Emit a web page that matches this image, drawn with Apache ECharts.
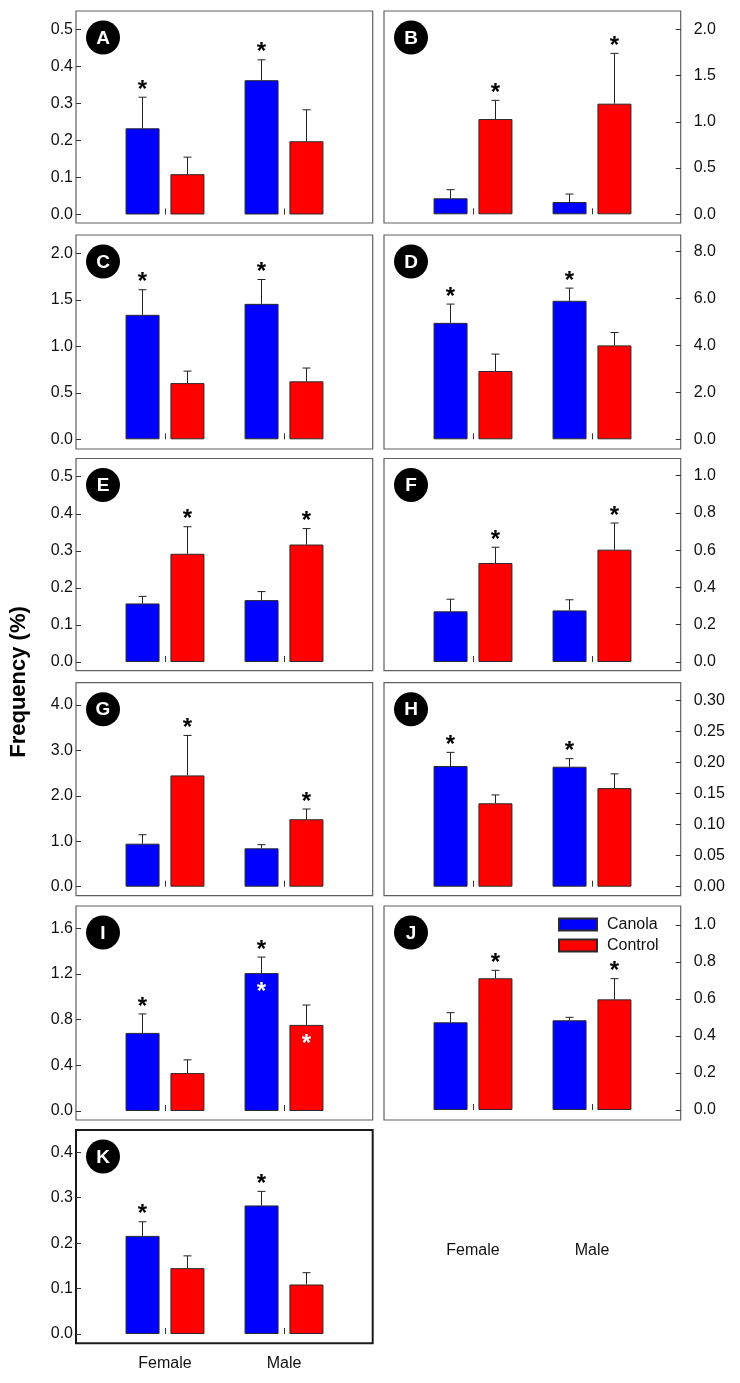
<!DOCTYPE html>
<html><head><meta charset="utf-8">
<script src="https://cdn.jsdelivr.net/npm/echarts@6/dist/echarts.min.js"></script>
<style>html,body{margin:0;padding:0;background:#fff}#c{width:740px;height:1383px}</style>
</head><body><div id="c"></div>
<script>
// ---------------- DATA ----------------
const categories = ['Female', 'Male'];
const seriesNames = ['Canola', 'Control'];
const panelLetters = ['A','B','C','D','E','F','G','H','I','J','K'];

// means and standard errors (Female, Male)
const canolaA = [0.233, 0.363],  canolaSEA = [0.084, 0.055];
const controlA = [0.109, 0.198], controlSEA = [0.046, 0.085];
const canolaB = [0.173, 0.133],  canolaSEB = [0.093, 0.086];
const controlB = [1.03, 1.196],  controlSEB = [0.202, 0.544];
const canolaC = [1.34, 1.458],   canolaSEC = [0.27, 0.262];
const controlC = [0.605, 0.624], controlSEC = [0.129, 0.143];
const canolaD = [4.96, 5.9],     canolaSED = [0.80, 0.54];
const controlD = [2.91, 4.0],    controlSED = [0.72, 0.55];
const canolaE = [0.158, 0.167],  canolaSEE = [0.019, 0.023];
const controlE = [0.292, 0.317], controlSEE = [0.073, 0.043];
const canolaF = [0.272, 0.277],  canolaSEF = [0.065, 0.057];
const controlF = [0.531, 0.603], controlSEF = [0.085, 0.143];
const canolaG = [0.947, 0.845],  canolaSEG = [0.198, 0.08];
const controlG = [2.45, 1.485],  controlSEG = [0.88, 0.225];
const canolaH = [0.1947, 0.1935], canolaSEH = [0.022, 0.013];
const controlH = [0.1345, 0.159], controlSEH = [0.0135, 0.023];
const canolaI = [0.684, 1.208],  canolaSEI = [0.166, 0.14];
const controlI = [0.332, 0.754], controlSEI = [0.116, 0.174];
const canolaJ = [0.474, 0.485],  canolaSEJ = [0.052, 0.016];
const controlJ = [0.712, 0.598], controlSEJ = [0.043, 0.112];
const canolaK = [0.216, 0.283],  canolaSEK = [0.031, 0.031];
const controlK = [0.145, 0.109], controlSEK = [0.027, 0.026];

// significance asterisks above bars [Female, Male]; 1 = shown
const starCanolaA = [1,1], starControlA = [0,0];
const starCanolaB = [0,0], starControlB = [1,1];
const starCanolaC = [1,1], starControlC = [0,0];
const starCanolaD = [1,1], starControlD = [0,0];
const starCanolaE = [0,0], starControlE = [1,1];
const starCanolaF = [0,0], starControlF = [1,1];
const starCanolaG = [0,0], starControlG = [1,1];
const starCanolaH = [1,1], starControlH = [0,0];
const starCanolaI = [1,1], starControlI = [0,0];
const starCanolaJ = [0,0], starControlJ = [1,1];
const starCanolaK = [1,1], starControlK = [0,0];
// white asterisks inside bars (panel I)
const whiteCanolaI = [0,1], whiteControlI = [0,1];

// y tick labels per panel
const ticksA = ['0.0','0.1','0.2','0.3','0.4','0.5'];
const ticksB = ['0.0','0.5','1.0','1.5','2.0'];
const ticksC = ['0.0','0.5','1.0','1.5','2.0'];
const ticksD = ['0.0','2.0','4.0','6.0','8.0'];
const ticksE = ['0.0','0.1','0.2','0.3','0.4','0.5'];
const ticksF = ['0.0','0.2','0.4','0.6','0.8','1.0'];
const ticksG = ['0.0','1.0','2.0','3.0','4.0'];
const ticksH = ['0.00','0.05','0.10','0.15','0.20','0.25','0.30'];
const ticksI = ['0.0','0.4','0.8','1.2','1.6'];
const ticksJ = ['0.0','0.2','0.4','0.6','0.8','1.0'];
const ticksK = ['0.0','0.1','0.2','0.3','0.4'];

const yTitle = 'Frequency (%)';

// ---------------- PANELS ----------------
const panels = [
  {L:'A', cn:canolaA, cse:canolaSEA, ct:controlA, tse:controlSEA, sc:starCanolaA, st:starControlA, ticks:ticksA},
  {L:'B', cn:canolaB, cse:canolaSEB, ct:controlB, tse:controlSEB, sc:starCanolaB, st:starControlB, ticks:ticksB},
  {L:'C', cn:canolaC, cse:canolaSEC, ct:controlC, tse:controlSEC, sc:starCanolaC, st:starControlC, ticks:ticksC},
  {L:'D', cn:canolaD, cse:canolaSED, ct:controlD, tse:controlSED, sc:starCanolaD, st:starControlD, ticks:ticksD},
  {L:'E', cn:canolaE, cse:canolaSEE, ct:controlE, tse:controlSEE, sc:starCanolaE, st:starControlE, ticks:ticksE},
  {L:'F', cn:canolaF, cse:canolaSEF, ct:controlF, tse:controlSEF, sc:starCanolaF, st:starControlF, ticks:ticksF},
  {L:'G', cn:canolaG, cse:canolaSEG, ct:controlG, tse:controlSEG, sc:starCanolaG, st:starControlG, ticks:ticksG},
  {L:'H', cn:canolaH, cse:canolaSEH, ct:controlH, tse:controlSEH, sc:starCanolaH, st:starControlH, ticks:ticksH},
  {L:'I', cn:canolaI, cse:canolaSEI, ct:controlI, tse:controlSEI, sc:starCanolaI, st:starControlI, ticks:ticksI, wc:whiteCanolaI, wt:whiteControlI},
  {L:'J', cn:canolaJ, cse:canolaSEJ, ct:controlJ, tse:controlSEJ, sc:starCanolaJ, st:starControlJ, ticks:ticksJ},
  {L:'K', cn:canolaK, cse:canolaSEK, ct:controlK, tse:controlSEK, sc:starCanolaK, st:starControlK, ticks:ticksK}
];

// layout (pixels)
const cols = [{x0:76, x1:372.7}, {x0:384, x1:680.7}];
const rows = [{y0:11,y1:223},{y0:235,y1:449},{y0:458.5,y1:670.7},{y0:682.7,y1:895.7},{y0:906,y1:1120},{y0:1130,y1:1343.3}];
const zeroY = [214.5,214.3,439.3,439.3,662,662,886.7,886.7,1111,1110,1334];
const topY  = [29.5,29.3,253.5,251.5,476.7,475.7,705,700.7,928.3,925,1152.3];
const FONT = '"Liberation Sans", Arial, sans-serif';
const BLUE = '#0000FF', RED = '#FF0000';

const grid = [], xAxis = [], yAxis = [], series = [], graphic = [];

panels.forEach((p, i) => {
  const col = cols[i % 2], row = rows[Math.floor(i / 2)];
  const isRight = i % 2 === 1;
  const isK = p.L === 'K';
  const fw = col.x1 - col.x0;
  // frame grid
  const fi = grid.length;
  grid.push({left: col.x0, top: row.y0, width: fw, height: row.y1 - row.y0, show: true,
    borderColor: isK ? '#1a1a1a' : '#606060', borderWidth: isK ? 2 : 1.2, backgroundColor: 'transparent'});
  xAxis.push({gridIndex: fi, type: 'value', show: false});
  yAxis.push({gridIndex: fi, type: 'value', show: false});
  // data grid
  const di = grid.length;
  const dLeft = col.x0 + 29.5, dW = 238;
  grid.push({left: dLeft, top: topY[i], width: dW, height: zeroY[i] - topY[i]});
  const showX = p.L === 'J' || p.L === 'K';
  xAxis.push({gridIndex: di, type: 'category', data: categories,
    offset: row.y1 - zeroY[i],
    axisLine: {show: false},
    axisTick: {show: true, inside: true, alignWithLabel: true, length: 6, lineStyle: {color: '#333'}},
    axisLabel: {show: showX, margin: p.L === 'J' ? 123 : 12, fontSize: 16, fontFamily: FONT, color: '#111'}
  });
  const tv = p.ticks.map(parseFloat);
  const dec = p.ticks[0].split('.')[1].length;
  yAxis.push({gridIndex: di, type: 'value', min: 0, max: tv[tv.length - 1], interval: tv[1] - tv[0],
    position: isRight ? 'right' : 'left',
    offset: isRight ? (col.x1 - (dLeft + dW)) : (dLeft - col.x0),
    axisLine: {show: false}, splitLine: {show: false},
    axisTick: {show: true, inside: true, length: 5, lineStyle: {color: '#333'}},
    axisLabel: {margin: isRight ? 13 : 3, fontSize: 16, fontFamily: FONT, color: '#111',
      formatter: v => v.toFixed(dec)}
  });
  const barStyle = c => ({color: c, borderColor: '#2a2a2a', borderWidth: 1});
  series.push({type: 'bar', name: seriesNames[0], xAxisIndex: di, yAxisIndex: di, data: p.cn,
    barWidth: 34, barGap: '32%', itemStyle: barStyle(BLUE), silent: true});
  series.push({type: 'bar', name: seriesNames[1], xAxisIndex: di, yAxisIndex: di, data: p.ct,
    barWidth: 34, barGap: '32%', itemStyle: barStyle(RED), silent: true});
  // error bars + asterisks
  const ed = [];
  [0, 1].forEach(c => {
    ed.push([c, p.cn[c], p.cse[c], p.sc[c], p.wc ? p.wc[c] : 0, -1]);
    ed.push([c, p.ct[c], p.tse[c], p.st[c], p.wt ? p.wt[c] : 0, 1]);
  });
  series.push({type: 'custom', xAxisIndex: di, yAxisIndex: di, data: ed, silent: true, z: 5,
    encode: {x: 0, y: 1},
    renderItem: (params, api) => {
      const cat = api.value(0), mean = api.value(1), se = api.value(2);
      const star = api.value(3), white = api.value(4), side = api.value(5);
      const base = api.coord([cat, mean]);
      const top = api.coord([cat, mean + se]);
      const x = base[0] + side * 22.5;
      const ch = [
        {type: 'line', shape: {x1: x, y1: base[1], x2: x, y2: top[1]}, style: {stroke: '#222', lineWidth: 1}},
        {type: 'line', shape: {x1: x - 4, y1: top[1], x2: x + 4, y2: top[1]}, style: {stroke: '#222', lineWidth: 1}}
      ];
      if (star) ch.push({type: 'text', x: x, y: top[1] - 7,
        style: {text: '*', fill: '#000', font: 'bold 24px ' + FONT, align: 'center', verticalAlign: 'middle',
                textAlign: 'center', textVerticalAlign: 'middle'}});
      if (white) ch.push({type: 'text', x: x, y: base[1] + 19,
        style: {text: '*', fill: '#fff', font: 'bold 24px ' + FONT, align: 'center', verticalAlign: 'middle',
                textAlign: 'center', textVerticalAlign: 'middle'}});
      return {type: 'group', children: ch};
    }
  });
  // panel letter badge
  graphic.push({type: 'group', x: col.x0 + 27, y: row.y0 + 26.5, z: 10, children: [
    {type: 'circle', shape: {cx: 0, cy: 0, r: 17}, style: {fill: '#000'}},
    {type: 'text', x: 0, y: 1, style: {text: p.L, fill: '#fff', font: 'bold 19px ' + FONT,
      align: 'center', verticalAlign: 'middle', textAlign: 'center', textVerticalAlign: 'middle'}}
  ]});
});

graphic.push({type: 'text', x: 19, y: 682, rotation: Math.PI / 2,
  style: {text: yTitle, fill: '#000', font: 'bold 22px ' + FONT, align: 'center', verticalAlign: 'middle',
          textAlign: 'center', textVerticalAlign: 'middle'}});

const chart = echarts.init(document.getElementById('c'), null, {renderer: 'canvas'});
chart.setOption({
  animation: false,
  backgroundColor: '#fff',
  grid, xAxis, yAxis, series, graphic,
  legend: {data: seriesNames, left: 558, top: 916.5, padding: 0, orient: 'vertical', itemWidth: 38, itemHeight: 12,
    itemGap: 5, selectedMode: false, icon: 'rect',
    textStyle: {fontSize: 16, fontFamily: FONT, color: '#111', padding: [0, 0, 0, 5]}}
});
</script></body></html>
